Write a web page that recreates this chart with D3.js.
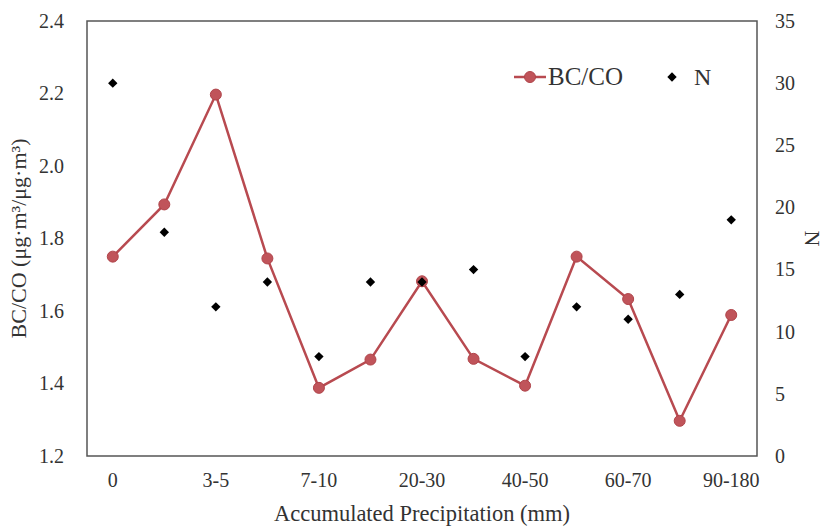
<!DOCTYPE html>
<html>
<head>
<meta charset="utf-8">
<script src="https://cdn.jsdelivr.net/npm/d3@7"></script>
<style>
  body { margin: 0; background: #fff; }
  text { font-family: "Liberation Serif", "Times New Roman", serif; fill: #333; }
</style>
</head>
<body>
<div id="chart"></div>
<script>
// categories (every other label shown on the axis)
var categories = ["0", "1-3", "3-5", "5-7", "7-10", "10-20", "20-30", "30-40", "40-50", "50-60", "60-70", "70-90", "90-180"];
var shownLabels = ["0", "3-5", "7-10", "20-30", "40-50", "60-70", "90-180"];
var bcco = [1.75, 1.894, 2.197, 1.745, 1.388, 1.466, 1.682, 1.468, 1.394, 1.75, 1.633, 1.297, 1.589];
var nCount = [30, 18, 12, 14, 8, 14, 14, 15, 8, 12, 11, 13, 19];
var leftTicks = [1.2, 1.4, 1.6, 1.8, 2.0, 2.2, 2.4];
var rightTicks = [0, 5, 10, 15, 20, 25, 30, 35];

var width = 824, height = 527;
var margin = {top: 21, left: 87, bottom: 71, right: 67};
var g_width = width - margin.left - margin.right;
var g_height = height - margin.top - margin.bottom;

var svg = d3.select('#chart').append('svg')
  .attr('width', width)
  .attr('height', height);

var g = svg.append('g')
  .attr('transform', 'translate(' + margin.left + ',' + margin.top + ')');

var xScale = d3.scaleBand().domain(categories).range([0, g_width]).padding(0);
var yScale = d3.scaleLinear().domain([1.2, 2.4]).range([g_height, 0]);
var y2Scale = d3.scaleLinear().domain([0, 35]).range([g_height, 0]);

function xc(d) { return xScale(d) + xScale.bandwidth() / 2; }

// axes
var xAxis = d3.axisBottom(xScale)
  .tickSize(0)
  .tickPadding(17)
  .tickFormat(function (d) { return shownLabels.indexOf(d) >= 0 ? d : ''; });
var gx = g.append('g')
  .attr('transform', 'translate(0,' + g_height + ')')
  .call(xAxis);

var yAxis = d3.axisLeft(yScale).tickValues(leftTicks).tickSize(0).tickPadding(23)
  .tickFormat(d3.format('.1f'));
var gy = g.append('g').call(yAxis);

var y2Axis = d3.axisRight(y2Scale).tickValues(rightTicks).tickSize(0).tickPadding(18);
var gy2 = g.append('g').attr('transform', 'translate(' + g_width + ',0)').call(y2Axis);

[gx, gy, gy2].forEach(function (a) {
  a.select('.domain').remove();
  a.selectAll('text').style('font-size', '20px').attr('fill', '#333');
});

// frame
g.append('rect')
  .attr('x', 0).attr('y', 0)
  .attr('width', g_width).attr('height', g_height)
  .attr('fill', 'none')
  .attr('stroke', '#555')
  .attr('stroke-width', 1.5);

// BC/CO line
var line = d3.line()
  .x(function (d, i) { return xc(categories[i]); })
  .y(function (d) { return yScale(d); });

g.append('path')
  .datum(bcco)
  .attr('d', line)
  .attr('fill', 'none')
  .attr('stroke', '#b84a50')
  .attr('stroke-width', 2.5);

g.selectAll('.bc')
  .data(bcco)
  .enter().append('circle')
  .attr('class', 'bc')
  .attr('cx', function (d, i) { return xc(categories[i]); })
  .attr('cy', function (d) { return yScale(d); })
  .attr('r', 5.5)
  .attr('fill', '#c0545a')
  .attr('stroke', '#b0444a')
  .attr('stroke-width', 1);

// N diamonds
var diamond = d3.symbol().type(d3.symbolDiamond2).size(56);
g.selectAll('.n')
  .data(nCount)
  .enter().append('path')
  .attr('class', 'n')
  .attr('d', diamond)
  .attr('transform', function (d, i) {
    return 'translate(' + xc(categories[i]) + ',' + y2Scale(d) + ')';
  })
  .attr('fill', '#000');

// legend
var lg = svg.append('g').attr('transform', 'translate(514,77)');
lg.append('line').attr('x1', 0).attr('x2', 32).attr('y1', 0).attr('y2', 0)
  .attr('stroke', '#b84a50').attr('stroke-width', 2.5);
lg.append('circle').attr('cx', 16).attr('cy', 0).attr('r', 5.5)
  .attr('fill', '#c0545a').attr('stroke', '#b0444a');
lg.append('text').attr('x', 34).attr('y', 8).style('font-size', '25px').text('BC/CO');
lg.append('path').attr('d', diamond).attr('transform', 'translate(158,0)').attr('fill', '#000');
lg.append('text').attr('x', 180).attr('y', 8).style('font-size', '24px').text('N');

// axis titles
svg.append('text')
  .attr('x', margin.left + g_width / 2)
  .attr('y', 521)
  .attr('text-anchor', 'middle')
  .style('font-size', '22.5px')
  .text('Accumulated Precipitation (mm)');

svg.append('text')
  .attr('transform', 'translate(26,' + (margin.top + g_height / 2) + ') rotate(-90)')
  .attr('text-anchor', 'middle')
  .style('font-size', '22px')
  .text('BC/CO (μg·m³/μg·m³)');

svg.append('text')
  .attr('transform', 'translate(805,' + (margin.top + g_height / 2) + ') rotate(90)')
  .attr('text-anchor', 'middle')
  .style('font-size', '22px')
  .text('N');
</script>
</body>
</html>
